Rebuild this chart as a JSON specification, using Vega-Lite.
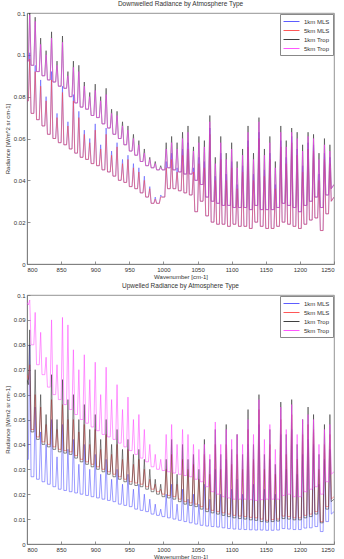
{
"$schema": "https://vega.github.io/schema/vega-lite/v6.json",
"padding": {"left": 3, "top": 0, "right": 0, "bottom": 0},
"background": "white",
"spacing": 2,
"config": {
  "font": "Liberation Sans",
  "view": {"stroke": "#777", "strokeWidth": 0.8},
  "axis": {"labelFontSize": 6, "titleFontSize": 6, "titleFontWeight": "normal", "labelColor": "#333", "titleColor": "#333", "domainColor": "#777", "tickColor": "#777", "tickSize": -3, "labelPadding": 5, "grid": false, "domainWidth": 0.8, "tickWidth": 0.8},
  "axisY": {"titlePadding": 3},
  "axisX": {"titlePadding": 1, "format": "d"},
  "title": {"fontSize": 6.5, "fontWeight": "normal", "color": "#333", "offset": 3},
  "legend": {"orient": "top-right", "offset": 1, "fillColor": "white", "strokeColor": "#888", "padding": 3, "labelFontSize": 6, "labelColor": "#333", "symbolType": "M-1,0H3", "symbolSize": 64, "symbolStrokeWidth": 0.9, "labelOffset": 12, "rowPadding": 1, "title": null}
},
"resolve": {"scale": {"color": "independent"}, "legend": {"color": "independent"}},
"datasets": {
"down": [
{"w":800,"a":0.078,"b":0.078,"c":0.097,"d":0.097},
{"w":802,"a":0.078,"b":0.078,"c":0.097,"d":0.097},
{"w":804,"a":0.101,"b":0.098,"c":0.122,"d":0.119},
{"w":806,"a":0.072,"b":0.072,"c":0.095,"d":0.095},
{"w":810,"a":0.072,"b":0.072,"c":0.095,"d":0.095},
{"w":812,"a":0.095,"b":0.092,"c":0.118,"d":0.116},
{"w":814,"a":0.069,"b":0.069,"c":0.092,"d":0.092},
{"w":818,"a":0.069,"b":0.069,"c":0.092,"d":0.092},
{"w":820,"a":0.088,"b":0.085,"c":0.108,"d":0.105},
{"w":822,"a":0.066,"b":0.066,"c":0.090,"d":0.090},
{"w":826,"a":0.066,"b":0.066,"c":0.090,"d":0.090},
{"w":828,"a":0.080,"b":0.078,"c":0.102,"d":0.100},
{"w":830,"a":0.062,"b":0.062,"c":0.088,"d":0.088},
{"w":834,"a":0.062,"b":0.062,"c":0.088,"d":0.088},
{"w":836,"a":0.092,"b":0.088,"c":0.111,"d":0.108},
{"w":838,"a":0.060,"b":0.060,"c":0.087,"d":0.087},
{"w":842,"a":0.060,"b":0.060,"c":0.087,"d":0.087},
{"w":844,"a":0.072,"b":0.070,"c":0.097,"d":0.095},
{"w":846,"a":0.058,"b":0.058,"c":0.085,"d":0.085},
{"w":850,"a":0.058,"b":0.058,"c":0.085,"d":0.085},
{"w":852,"a":0.085,"b":0.082,"c":0.109,"d":0.106},
{"w":854,"a":0.057,"b":0.057,"c":0.084,"d":0.084},
{"w":858,"a":0.057,"b":0.057,"c":0.084,"d":0.084},
{"w":860,"a":0.068,"b":0.066,"c":0.092,"d":0.090},
{"w":862,"a":0.055,"b":0.055,"c":0.080,"d":0.080},
{"w":866,"a":0.055,"b":0.055,"c":0.080,"d":0.080},
{"w":868,"a":0.081,"b":0.078,"c":0.097,"d":0.094},
{"w":870,"a":0.053,"b":0.053,"c":0.077,"d":0.077},
{"w":874,"a":0.053,"b":0.053,"c":0.077,"d":0.077},
{"w":876,"a":0.073,"b":0.070,"c":0.095,"d":0.092},
{"w":878,"a":0.051,"b":0.051,"c":0.075,"d":0.075},
{"w":882,"a":0.051,"b":0.051,"c":0.075,"d":0.075},
{"w":884,"a":0.064,"b":0.062,"c":0.087,"d":0.085},
{"w":886,"a":0.050,"b":0.050,"c":0.074,"d":0.074},
{"w":890,"a":0.050,"b":0.050,"c":0.074,"d":0.074},
{"w":892,"a":0.060,"b":0.058,"c":0.082,"d":0.080},
{"w":894,"a":0.048,"b":0.048,"c":0.071,"d":0.071},
{"w":898,"a":0.048,"b":0.048,"c":0.071,"d":0.071},
{"w":900,"a":0.067,"b":0.064,"c":0.086,"d":0.083},
{"w":902,"a":0.047,"b":0.047,"c":0.070,"d":0.070},
{"w":906,"a":0.047,"b":0.047,"c":0.070,"d":0.070},
{"w":908,"a":0.057,"b":0.055,"c":0.080,"d":0.078},
{"w":910,"a":0.045,"b":0.045,"c":0.067,"d":0.067},
{"w":914,"a":0.045,"b":0.045,"c":0.067,"d":0.067},
{"w":916,"a":0.065,"b":0.062,"c":0.084,"d":0.081},
{"w":918,"a":0.044,"b":0.044,"c":0.065,"d":0.065},
{"w":922,"a":0.044,"b":0.044,"c":0.065,"d":0.065},
{"w":924,"a":0.054,"b":0.052,"c":0.074,"d":0.072},
{"w":926,"a":0.042,"b":0.042,"c":0.062,"d":0.062},
{"w":930,"a":0.042,"b":0.042,"c":0.062,"d":0.062},
{"w":932,"a":0.058,"b":0.056,"c":0.073,"d":0.071},
{"w":934,"a":0.040,"b":0.040,"c":0.060,"d":0.060},
{"w":938,"a":0.040,"b":0.040,"c":0.060,"d":0.060},
{"w":940,"a":0.050,"b":0.048,"c":0.068,"d":0.066},
{"w":942,"a":0.039,"b":0.039,"c":0.057,"d":0.057},
{"w":946,"a":0.039,"b":0.039,"c":0.057,"d":0.057},
{"w":948,"a":0.052,"b":0.050,"c":0.066,"d":0.064},
{"w":950,"a":0.037,"b":0.037,"c":0.054,"d":0.054},
{"w":954,"a":0.037,"b":0.037,"c":0.054,"d":0.054},
{"w":956,"a":0.048,"b":0.046,"c":0.062,"d":0.060},
{"w":958,"a":0.036,"b":0.036,"c":0.052,"d":0.052},
{"w":962,"a":0.036,"b":0.036,"c":0.052,"d":0.052},
{"w":964,"a":0.046,"b":0.044,"c":0.059,"d":0.057},
{"w":966,"a":0.034,"b":0.034,"c":0.049,"d":0.049},
{"w":970,"a":0.034,"b":0.034,"c":0.049,"d":0.049},
{"w":972,"a":0.042,"b":0.040,"c":0.055,"d":0.053},
{"w":974,"a":0.032,"b":0.032,"c":0.047,"d":0.047},
{"w":978,"a":0.032,"b":0.032,"c":0.047,"d":0.047},
{"w":980,"a":0.037,"b":0.036,"c":0.051,"d":0.050},
{"w":982,"a":0.029,"b":0.029,"c":0.046,"d":0.046},
{"w":986,"a":0.029,"b":0.029,"c":0.046,"d":0.046},
{"w":988,"a":0.032,"b":0.031,"c":0.049,"d":0.048},
{"w":990,"a":0.029,"b":0.029,"c":0.045,"d":0.045},
{"w":994,"a":0.029,"b":0.029,"c":0.045,"d":0.045},
{"w":996,"a":0.033,"b":0.032,"c":0.047,"d":0.046},
{"w":998,"a":0.032,"b":0.032,"c":0.045,"d":0.045},
{"w":1002,"a":0.032,"b":0.032,"c":0.045,"d":0.045},
{"w":1004,"a":0.049,"b":0.046,"c":0.058,"d":0.055},
{"w":1006,"a":0.036,"b":0.036,"c":0.046,"d":0.046},
{"w":1010,"a":0.036,"b":0.036,"c":0.046,"d":0.046},
{"w":1012,"a":0.053,"b":0.050,"c":0.061,"d":0.058},
{"w":1014,"a":0.036,"b":0.036,"c":0.045,"d":0.045},
{"w":1018,"a":0.036,"b":0.036,"c":0.045,"d":0.045},
{"w":1020,"a":0.046,"b":0.044,"c":0.058,"d":0.055},
{"w":1022,"a":0.035,"b":0.035,"c":0.044,"d":0.044},
{"w":1026,"a":0.035,"b":0.035,"c":0.044,"d":0.044},
{"w":1028,"a":0.055,"b":0.052,"c":0.063,"d":0.060},
{"w":1030,"a":0.034,"b":0.034,"c":0.043,"d":0.043},
{"w":1034,"a":0.034,"b":0.034,"c":0.043,"d":0.043},
{"w":1036,"a":0.058,"b":0.055,"c":0.066,"d":0.063},
{"w":1038,"a":0.033,"b":0.033,"c":0.043,"d":0.043},
{"w":1042,"a":0.033,"b":0.033,"c":0.043,"d":0.043},
{"w":1044,"a":0.046,"b":0.044,"c":0.056,"d":0.054},
{"w":1046,"a":0.025,"b":0.025,"c":0.040,"d":0.040},
{"w":1050,"a":0.025,"b":0.025,"c":0.040,"d":0.040},
{"w":1052,"a":0.051,"b":0.048,"c":0.061,"d":0.058},
{"w":1054,"a":0.030,"b":0.030,"c":0.038,"d":0.038},
{"w":1058,"a":0.030,"b":0.030,"c":0.038,"d":0.038},
{"w":1060,"a":0.049,"b":0.046,"c":0.059,"d":0.056},
{"w":1062,"a":0.023,"b":0.023,"c":0.032,"d":0.032},
{"w":1066,"a":0.023,"b":0.023,"c":0.032,"d":0.032},
{"w":1068,"a":0.065,"b":0.062,"c":0.071,"d":0.068},
{"w":1070,"a":0.020,"b":0.020,"c":0.030,"d":0.030},
{"w":1074,"a":0.020,"b":0.020,"c":0.030,"d":0.030},
{"w":1076,"a":0.042,"b":0.040,"c":0.051,"d":0.048},
{"w":1078,"a":0.019,"b":0.019,"c":0.029,"d":0.029},
{"w":1082,"a":0.019,"b":0.019,"c":0.029,"d":0.029},
{"w":1084,"a":0.053,"b":0.050,"c":0.061,"d":0.058},
{"w":1086,"a":0.019,"b":0.019,"c":0.028,"d":0.028},
{"w":1090,"a":0.019,"b":0.019,"c":0.028,"d":0.028},
{"w":1092,"a":0.043,"b":0.040,"c":0.053,"d":0.050},
{"w":1094,"a":0.018,"b":0.018,"c":0.028,"d":0.028},
{"w":1098,"a":0.018,"b":0.018,"c":0.028,"d":0.028},
{"w":1100,"a":0.049,"b":0.046,"c":0.058,"d":0.055},
{"w":1102,"a":0.019,"b":0.019,"c":0.027,"d":0.027},
{"w":1106,"a":0.019,"b":0.019,"c":0.027,"d":0.027},
{"w":1108,"a":0.038,"b":0.036,"c":0.049,"d":0.046},
{"w":1110,"a":0.018,"b":0.018,"c":0.027,"d":0.027},
{"w":1114,"a":0.018,"b":0.018,"c":0.027,"d":0.027},
{"w":1116,"a":0.047,"b":0.044,"c":0.055,"d":0.052},
{"w":1118,"a":0.018,"b":0.018,"c":0.027,"d":0.027},
{"w":1122,"a":0.018,"b":0.018,"c":0.027,"d":0.027},
{"w":1124,"a":0.059,"b":0.056,"c":0.066,"d":0.063},
{"w":1126,"a":0.017,"b":0.017,"c":0.026,"d":0.026},
{"w":1130,"a":0.017,"b":0.017,"c":0.026,"d":0.026},
{"w":1132,"a":0.043,"b":0.040,"c":0.053,"d":0.050},
{"w":1134,"a":0.020,"b":0.020,"c":0.028,"d":0.028},
{"w":1138,"a":0.020,"b":0.020,"c":0.028,"d":0.028},
{"w":1140,"a":0.063,"b":0.060,"c":0.070,"d":0.068},
{"w":1142,"a":0.018,"b":0.018,"c":0.026,"d":0.026},
{"w":1146,"a":0.018,"b":0.018,"c":0.026,"d":0.026},
{"w":1148,"a":0.045,"b":0.042,"c":0.055,"d":0.052},
{"w":1150,"a":0.017,"b":0.017,"c":0.026,"d":0.026},
{"w":1154,"a":0.017,"b":0.017,"c":0.026,"d":0.026},
{"w":1156,"a":0.053,"b":0.050,"c":0.061,"d":0.058},
{"w":1158,"a":0.017,"b":0.017,"c":0.026,"d":0.026},
{"w":1162,"a":0.017,"b":0.017,"c":0.026,"d":0.026},
{"w":1164,"a":0.038,"b":0.036,"c":0.049,"d":0.046},
{"w":1166,"a":0.018,"b":0.018,"c":0.027,"d":0.027},
{"w":1170,"a":0.018,"b":0.018,"c":0.027,"d":0.027},
{"w":1172,"a":0.059,"b":0.056,"c":0.066,"d":0.063},
{"w":1174,"a":0.020,"b":0.020,"c":0.029,"d":0.029},
{"w":1178,"a":0.020,"b":0.020,"c":0.029,"d":0.029},
{"w":1180,"a":0.051,"b":0.048,"c":0.059,"d":0.056},
{"w":1182,"a":0.019,"b":0.019,"c":0.028,"d":0.028},
{"w":1186,"a":0.019,"b":0.019,"c":0.028,"d":0.028},
{"w":1188,"a":0.061,"b":0.058,"c":0.065,"d":0.063},
{"w":1190,"a":0.018,"b":0.018,"c":0.027,"d":0.027},
{"w":1194,"a":0.018,"b":0.018,"c":0.027,"d":0.027},
{"w":1196,"a":0.055,"b":0.052,"c":0.063,"d":0.060},
{"w":1198,"a":0.017,"b":0.017,"c":0.025,"d":0.025},
{"w":1202,"a":0.017,"b":0.017,"c":0.025,"d":0.025},
{"w":1204,"a":0.047,"b":0.044,"c":0.057,"d":0.054},
{"w":1206,"a":0.019,"b":0.019,"c":0.028,"d":0.028},
{"w":1210,"a":0.019,"b":0.019,"c":0.028,"d":0.028},
{"w":1212,"a":0.058,"b":0.055,"c":0.063,"d":0.061},
{"w":1214,"a":0.021,"b":0.021,"c":0.030,"d":0.030},
{"w":1218,"a":0.021,"b":0.021,"c":0.030,"d":0.030},
{"w":1220,"a":0.057,"b":0.054,"c":0.062,"d":0.060},
{"w":1222,"a":0.022,"b":0.022,"c":0.032,"d":0.032},
{"w":1226,"a":0.022,"b":0.022,"c":0.032,"d":0.032},
{"w":1228,"a":0.043,"b":0.040,"c":0.053,"d":0.050},
{"w":1230,"a":0.016,"b":0.016,"c":0.027,"d":0.027},
{"w":1234,"a":0.016,"b":0.016,"c":0.027,"d":0.027},
{"w":1236,"a":0.053,"b":0.050,"c":0.060,"d":0.057},
{"w":1238,"a":0.024,"b":0.024,"c":0.033,"d":0.033},
{"w":1242,"a":0.024,"b":0.024,"c":0.033,"d":0.033},
{"w":1244,"a":0.051,"b":0.048,"c":0.057,"d":0.054},
{"w":1246,"a":0.030,"b":0.030,"c":0.036,"d":0.036},
{"w":1250,"a":0.032,"b":0.032,"c":0.038,"d":0.038}
],
"up": [
{"w":800,"a":0.034,"b":0.068,"c":0.066,"d":0.097},
{"w":802,"a":0.034,"b":0.066,"c":0.064,"d":0.096},
{"w":804,"a":0.080,"b":0.072,"c":0.086,"d":0.098},
{"w":806,"a":0.027,"b":0.046,"c":0.045,"d":0.080},
{"w":810,"a":0.027,"b":0.046,"c":0.045,"d":0.080},
{"w":812,"a":0.055,"b":0.060,"c":0.070,"d":0.093},
{"w":814,"a":0.026,"b":0.043,"c":0.042,"d":0.072},
{"w":818,"a":0.026,"b":0.043,"c":0.042,"d":0.072},
{"w":820,"a":0.045,"b":0.055,"c":0.060,"d":0.085},
{"w":822,"a":0.025,"b":0.041,"c":0.040,"d":0.068},
{"w":826,"a":0.025,"b":0.041,"c":0.040,"d":0.068},
{"w":828,"a":0.040,"b":0.048,"c":0.052,"d":0.075},
{"w":830,"a":0.024,"b":0.040,"c":0.039,"d":0.063},
{"w":834,"a":0.024,"b":0.040,"c":0.039,"d":0.063},
{"w":836,"a":0.050,"b":0.058,"c":0.068,"d":0.090},
{"w":838,"a":0.023,"b":0.039,"c":0.038,"d":0.060},
{"w":842,"a":0.023,"b":0.039,"c":0.038,"d":0.060},
{"w":844,"a":0.035,"b":0.046,"c":0.050,"d":0.072},
{"w":846,"a":0.022,"b":0.038,"c":0.037,"d":0.058},
{"w":850,"a":0.022,"b":0.038,"c":0.037,"d":0.058},
{"w":852,"a":0.048,"b":0.056,"c":0.066,"d":0.091},
{"w":854,"a":0.0215,"b":0.0375,"c":0.0365,"d":0.056},
{"w":858,"a":0.0215,"b":0.0375,"c":0.0365,"d":0.056},
{"w":860,"a":0.038,"b":0.050,"c":0.058,"d":0.088},
{"w":862,"a":0.021,"b":0.037,"c":0.036,"d":0.054},
{"w":866,"a":0.021,"b":0.037,"c":0.036,"d":0.054},
{"w":868,"a":0.042,"b":0.050,"c":0.060,"d":0.078},
{"w":870,"a":0.0205,"b":0.0355,"c":0.0345,"d":0.052},
{"w":874,"a":0.0205,"b":0.0355,"c":0.0345,"d":0.052},
{"w":876,"a":0.032,"b":0.045,"c":0.050,"d":0.070},
{"w":878,"a":0.020,"b":0.034,"c":0.033,"d":0.050},
{"w":882,"a":0.020,"b":0.034,"c":0.033,"d":0.050},
{"w":884,"a":0.040,"b":0.048,"c":0.056,"d":0.076},
{"w":886,"a":0.0195,"b":0.033,"c":0.032,"d":0.0485},
{"w":890,"a":0.0195,"b":0.033,"c":0.032,"d":0.0485},
{"w":892,"a":0.030,"b":0.040,"c":0.046,"d":0.066},
{"w":894,"a":0.019,"b":0.032,"c":0.031,"d":0.047},
{"w":898,"a":0.019,"b":0.032,"c":0.031,"d":0.047},
{"w":900,"a":0.036,"b":0.046,"c":0.052,"d":0.073},
{"w":902,"a":0.0185,"b":0.031,"c":0.030,"d":0.0455},
{"w":906,"a":0.0185,"b":0.031,"c":0.030,"d":0.0455},
{"w":908,"a":0.028,"b":0.038,"c":0.042,"d":0.060},
{"w":910,"a":0.018,"b":0.030,"c":0.029,"d":0.044},
{"w":914,"a":0.018,"b":0.030,"c":0.029,"d":0.044},
{"w":916,"a":0.034,"b":0.044,"c":0.050,"d":0.071},
{"w":918,"a":0.0175,"b":0.029,"c":0.028,"d":0.043},
{"w":922,"a":0.0175,"b":0.029,"c":0.028,"d":0.043},
{"w":924,"a":0.026,"b":0.036,"c":0.040,"d":0.058},
{"w":926,"a":0.017,"b":0.028,"c":0.027,"d":0.042},
{"w":930,"a":0.017,"b":0.028,"c":0.027,"d":0.042},
{"w":932,"a":0.030,"b":0.040,"c":0.046,"d":0.064},
{"w":934,"a":0.016,"b":0.027,"c":0.026,"d":0.0405},
{"w":938,"a":0.016,"b":0.027,"c":0.026,"d":0.0405},
{"w":940,"a":0.024,"b":0.034,"c":0.038,"d":0.054},
{"w":942,"a":0.0155,"b":0.026,"c":0.025,"d":0.039},
{"w":946,"a":0.0155,"b":0.026,"c":0.025,"d":0.039},
{"w":948,"a":0.028,"b":0.038,"c":0.042,"d":0.059},
{"w":950,"a":0.015,"b":0.025,"c":0.024,"d":0.0375},
{"w":954,"a":0.015,"b":0.025,"c":0.024,"d":0.0375},
{"w":956,"a":0.022,"b":0.032,"c":0.036,"d":0.050},
{"w":958,"a":0.014,"b":0.0245,"c":0.0235,"d":0.036},
{"w":962,"a":0.014,"b":0.0245,"c":0.0235,"d":0.036},
{"w":964,"a":0.024,"b":0.034,"c":0.038,"d":0.052},
{"w":966,"a":0.0135,"b":0.024,"c":0.023,"d":0.0345},
{"w":970,"a":0.0135,"b":0.024,"c":0.023,"d":0.0345},
{"w":972,"a":0.020,"b":0.030,"c":0.034,"d":0.046},
{"w":974,"a":0.013,"b":0.023,"c":0.022,"d":0.033},
{"w":978,"a":0.013,"b":0.023,"c":0.022,"d":0.033},
{"w":980,"a":0.018,"b":0.026,"c":0.030,"d":0.040},
{"w":982,"a":0.012,"b":0.022,"c":0.021,"d":0.031},
{"w":986,"a":0.012,"b":0.022,"c":0.021,"d":0.031},
{"w":988,"a":0.016,"b":0.024,"c":0.026,"d":0.036},
{"w":990,"a":0.0115,"b":0.021,"c":0.020,"d":0.030},
{"w":994,"a":0.0115,"b":0.021,"c":0.020,"d":0.030},
{"w":996,"a":0.014,"b":0.022,"c":0.024,"d":0.034},
{"w":998,"a":0.011,"b":0.020,"c":0.019,"d":0.0295},
{"w":1002,"a":0.011,"b":0.020,"c":0.019,"d":0.0295},
{"w":1004,"a":0.020,"b":0.030,"c":0.034,"d":0.044},
{"w":1006,"a":0.0105,"b":0.0195,"c":0.0185,"d":0.029},
{"w":1010,"a":0.0105,"b":0.0195,"c":0.0185,"d":0.029},
{"w":1012,"a":0.024,"b":0.036,"c":0.042,"d":0.048},
{"w":1014,"a":0.010,"b":0.019,"c":0.018,"d":0.0285},
{"w":1018,"a":0.010,"b":0.019,"c":0.018,"d":0.0285},
{"w":1020,"a":0.016,"b":0.024,"c":0.028,"d":0.040},
{"w":1022,"a":0.0095,"b":0.018,"c":0.017,"d":0.028},
{"w":1026,"a":0.0095,"b":0.018,"c":0.017,"d":0.028},
{"w":1028,"a":0.022,"b":0.034,"c":0.040,"d":0.046},
{"w":1030,"a":0.009,"b":0.017,"c":0.016,"d":0.0275},
{"w":1034,"a":0.009,"b":0.017,"c":0.016,"d":0.0275},
{"w":1036,"a":0.018,"b":0.030,"c":0.034,"d":0.044},
{"w":1038,"a":0.0085,"b":0.0165,"c":0.0155,"d":0.027},
{"w":1042,"a":0.0085,"b":0.0165,"c":0.0155,"d":0.027},
{"w":1044,"a":0.020,"b":0.032,"c":0.036,"d":0.040},
{"w":1046,"a":0.008,"b":0.016,"c":0.015,"d":0.026},
{"w":1050,"a":0.008,"b":0.016,"c":0.015,"d":0.026},
{"w":1052,"a":0.016,"b":0.026,"c":0.030,"d":0.038},
{"w":1054,"a":0.0075,"b":0.015,"c":0.014,"d":0.025},
{"w":1058,"a":0.0075,"b":0.015,"c":0.014,"d":0.025},
{"w":1060,"a":0.024,"b":0.036,"c":0.042,"d":0.040},
{"w":1062,"a":0.0072,"b":0.014,"c":0.013,"d":0.023},
{"w":1066,"a":0.0072,"b":0.014,"c":0.013,"d":0.023},
{"w":1068,"a":0.018,"b":0.028,"c":0.034,"d":0.036},
{"w":1070,"a":0.007,"b":0.0135,"c":0.0125,"d":0.021},
{"w":1074,"a":0.007,"b":0.0135,"c":0.0125,"d":0.021},
{"w":1076,"a":0.030,"b":0.040,"c":0.046,"d":0.049},
{"w":1078,"a":0.0068,"b":0.013,"c":0.012,"d":0.020},
{"w":1082,"a":0.0068,"b":0.013,"c":0.012,"d":0.020},
{"w":1084,"a":0.020,"b":0.030,"c":0.036,"d":0.040},
{"w":1086,"a":0.0065,"b":0.0125,"c":0.0115,"d":0.019},
{"w":1090,"a":0.0065,"b":0.0125,"c":0.0115,"d":0.019},
{"w":1092,"a":0.034,"b":0.040,"c":0.048,"d":0.046},
{"w":1094,"a":0.0062,"b":0.012,"c":0.011,"d":0.0185},
{"w":1098,"a":0.0062,"b":0.012,"c":0.011,"d":0.0185},
{"w":1100,"a":0.022,"b":0.032,"c":0.038,"d":0.042},
{"w":1102,"a":0.006,"b":0.0115,"c":0.0105,"d":0.018},
{"w":1106,"a":0.006,"b":0.0115,"c":0.0105,"d":0.018},
{"w":1108,"a":0.026,"b":0.036,"c":0.044,"d":0.044},
{"w":1110,"a":0.0059,"b":0.0112,"c":0.0102,"d":0.018},
{"w":1114,"a":0.0059,"b":0.0112,"c":0.0102,"d":0.018},
{"w":1116,"a":0.020,"b":0.030,"c":0.036,"d":0.040},
{"w":1118,"a":0.0058,"b":0.011,"c":0.010,"d":0.018},
{"w":1122,"a":0.0058,"b":0.011,"c":0.010,"d":0.018},
{"w":1124,"a":0.040,"b":0.046,"c":0.054,"d":0.050},
{"w":1126,"a":0.0057,"b":0.0107,"c":0.0097,"d":0.0178},
{"w":1130,"a":0.0057,"b":0.0107,"c":0.0097,"d":0.0178},
{"w":1132,"a":0.024,"b":0.034,"c":0.040,"d":0.044},
{"w":1134,"a":0.0056,"b":0.0105,"c":0.0095,"d":0.0175},
{"w":1138,"a":0.0056,"b":0.0105,"c":0.0095,"d":0.0175},
{"w":1140,"a":0.048,"b":0.054,"c":0.060,"d":0.058},
{"w":1142,"a":0.0056,"b":0.010,"c":0.009,"d":0.0178},
{"w":1146,"a":0.0056,"b":0.010,"c":0.009,"d":0.0178},
{"w":1148,"a":0.022,"b":0.030,"c":0.036,"d":0.042},
{"w":1150,"a":0.0055,"b":0.0095,"c":0.0088,"d":0.018},
{"w":1154,"a":0.0055,"b":0.0095,"c":0.0088,"d":0.018},
{"w":1156,"a":0.034,"b":0.040,"c":0.046,"d":0.048},
{"w":1158,"a":0.0055,"b":0.0098,"c":0.009,"d":0.018},
{"w":1162,"a":0.0055,"b":0.0098,"c":0.009,"d":0.018},
{"w":1164,"a":0.020,"b":0.028,"c":0.032,"d":0.038},
{"w":1166,"a":0.0056,"b":0.010,"c":0.0092,"d":0.018},
{"w":1170,"a":0.0056,"b":0.010,"c":0.0092,"d":0.018},
{"w":1172,"a":0.044,"b":0.050,"c":0.057,"d":0.055},
{"w":1174,"a":0.0062,"b":0.0112,"c":0.0102,"d":0.0195},
{"w":1178,"a":0.0062,"b":0.0112,"c":0.0102,"d":0.0195},
{"w":1180,"a":0.030,"b":0.036,"c":0.044,"d":0.046},
{"w":1182,"a":0.006,"b":0.011,"c":0.010,"d":0.020},
{"w":1186,"a":0.006,"b":0.011,"c":0.010,"d":0.020},
{"w":1188,"a":0.046,"b":0.052,"c":0.058,"d":0.056},
{"w":1190,"a":0.0058,"b":0.0105,"c":0.0097,"d":0.019},
{"w":1194,"a":0.0058,"b":0.0105,"c":0.0097,"d":0.019},
{"w":1196,"a":0.028,"b":0.034,"c":0.040,"d":0.044},
{"w":1198,"a":0.0058,"b":0.0105,"c":0.0097,"d":0.019},
{"w":1202,"a":0.0058,"b":0.0105,"c":0.0097,"d":0.019},
{"w":1204,"a":0.036,"b":0.044,"c":0.050,"d":0.050},
{"w":1206,"a":0.0064,"b":0.0115,"c":0.0105,"d":0.021},
{"w":1210,"a":0.0064,"b":0.0115,"c":0.0105,"d":0.021},
{"w":1212,"a":0.042,"b":0.048,"c":0.055,"d":0.052},
{"w":1214,"a":0.0065,"b":0.012,"c":0.011,"d":0.022},
{"w":1218,"a":0.0065,"b":0.012,"c":0.011,"d":0.022},
{"w":1220,"a":0.040,"b":0.046,"c":0.052,"d":0.050},
{"w":1222,"a":0.007,"b":0.013,"c":0.012,"d":0.023},
{"w":1226,"a":0.007,"b":0.013,"c":0.012,"d":0.023},
{"w":1228,"a":0.024,"b":0.030,"c":0.036,"d":0.040},
{"w":1230,"a":0.005,"b":0.009,"c":0.0085,"d":0.020},
{"w":1234,"a":0.005,"b":0.009,"c":0.0085,"d":0.020},
{"w":1236,"a":0.034,"b":0.040,"c":0.048,"d":0.046},
{"w":1238,"a":0.009,"b":0.015,"c":0.014,"d":0.025},
{"w":1242,"a":0.009,"b":0.015,"c":0.014,"d":0.025},
{"w":1244,"a":0.038,"b":0.044,"c":0.052,"d":0.048},
{"w":1246,"a":0.012,"b":0.018,"c":0.017,"d":0.028},
{"w":1250,"a":0.013,"b":0.019,"c":0.018,"d":0.029}
]
},
"vconcat": [
{
  "width": 307, "height": 251,
  "title": "Downwelled Radiance by Atmosphere Type",
  "data": {"name": "down"},
  "transform": [{"fold": ["a", "b", "c", "d"], "as": ["series", "value"]}],
  "mark": {"type": "line", "strokeWidth": 0.55, "clip": true},
  "encoding": {
    "x": {"field": "w", "type": "quantitative", "scale": {"domain": [800, 1250], "nice": false, "zero": false}, "axis": {"values": [800, 850, 900, 950, 1000, 1050, 1100, 1150, 1200, 1250], "title": "Wavenumber [cm-1]"}},
    "y": {"field": "value", "type": "quantitative", "scale": {"domain": [0, 0.12], "nice": false}, "axis": {"values": [0, 0.02, 0.04, 0.06, 0.08, 0.1, 0.12], "format": "~g", "title": "Radiance [W/m^2 sr cm-1]"}},
    "color": {"field": "series", "type": "nominal", "scale": {"domain": ["a", "b", "c", "d"], "range": ["#4b4bff", "#ff4444", "#2a2a2a", "#ff44ff"]},
      "legend": {"labelExpr": "datum.label == 'a' ? '1km MLS' : datum.label == 'b' ? '5km MLS' : datum.label == 'c' ? '1km Trop' : '5km Trop'"}}
  }
},
{
  "width": 307, "height": 249,
  "title": "Upwelled Radiance by Atmosphere Type",
  "data": {"name": "up"},
  "transform": [{"fold": ["a", "b", "c", "d"], "as": ["series", "value"]}],
  "mark": {"type": "line", "strokeWidth": 0.55, "clip": true},
  "encoding": {
    "x": {"field": "w", "type": "quantitative", "scale": {"domain": [800, 1250], "nice": false, "zero": false}, "axis": {"values": [800, 850, 900, 950, 1000, 1050, 1100, 1150, 1200, 1250], "title": "Wavenumber [cm-1]"}},
    "y": {"field": "value", "type": "quantitative", "scale": {"domain": [0, 0.1], "nice": false}, "axis": {"values": [0, 0.01, 0.02, 0.03, 0.04, 0.05, 0.06, 0.07, 0.08, 0.09, 0.1], "format": "~g", "title": "Radiance [W/m2 sr cm-1]"}},
    "color": {"field": "series", "type": "nominal", "scale": {"domain": ["a", "b", "c", "d"], "range": ["#4b4bff", "#ff4444", "#2a2a2a", "#ff44ff"]},
      "legend": {"labelExpr": "datum.label == 'a' ? '1km MLS' : datum.label == 'b' ? '5km MLS' : datum.label == 'c' ? '1km Trop' : '5km Trop'"}}
  }
}
]
}
